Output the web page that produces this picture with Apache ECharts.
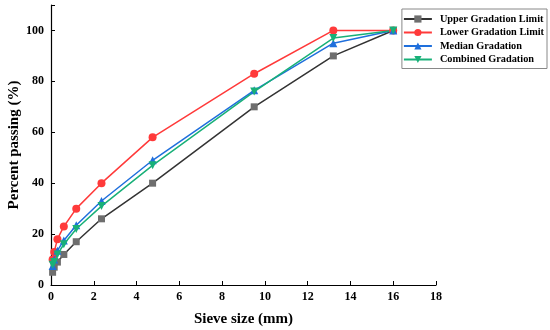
<!DOCTYPE html>
<html><head><meta charset="utf-8">
<script src="https://cdn.jsdelivr.net/npm/echarts@6/dist/echarts.min.js"></script>
<style>html,body{margin:0;padding:0;background:#fff}#c{width:550px;height:330px}</style>
</head><body><div id="c"></div>
<script>
const sieveSizes = [0.075, 0.15, 0.3, 0.6, 1.18, 2.36, 4.75, 9.5, 13.2, 16];
const upperLimit = [5, 7, 9, 12, 17, 26, 40, 70, 90, 100];
const lowerLimit = [10, 13, 18, 23, 30, 40, 58, 83, 100, 100];
const median = [7.5, 10, 13.5, 17.5, 23.5, 33, 49, 76.5, 95, 100];
const combined = [8, 9, 12, 16, 22, 31, 47, 76, 97, 100];
const seriesNames = ['Upper Gradation Limit', 'Lower Gradation Limit', 'Median Gradation', 'Combined Gradation'];

const font = '"Liberation Serif", "Times New Roman", serif';
function mk(name, vals, color, lineColor, symbol, size, rotate) {
  return {
    name, type: 'line', data: sieveSizes.map((x, i) => [x, vals[i]]),
    symbol, symbolSize: size, symbolRotate: rotate || 0,
    itemStyle: { color }, lineStyle: { color: lineColor, width: 1.5 }
  };
}
const chart = echarts.init(document.getElementById('c'));
chart.setOption({
  animation: false,
  grid: { left: 51, right: 114, top: 5, bottom: 45, outerBoundsMode: 'none', containLabel: false },
  legend: {
    right: 3, top: 9, orient: 'vertical', itemGap: 3.5, itemWidth: 28, itemHeight: 9,
    borderColor: '#888', borderWidth: 1, borderRadius: 0, padding: [5, 3, 4, 1],
    textStyle: { fontFamily: font, fontWeight: 'bold', fontSize: 10.3, color: '#000', padding: [0, 0, 0, 3] },
    data: seriesNames
  },
  xAxis: {
    type: 'value', min: 0, max: 18, interval: 2,
    name: 'Sieve size (mm)', nameLocation: 'middle', nameGap: 27, nameMoveOverlap: false,
    nameTextStyle: { fontFamily: font, fontWeight: 'bold', fontSize: 15, color: '#000' },
    axisLine: { lineStyle: { color: '#000', width: 1.2 } },
    axisTick: { inside: true, length: 4, lineStyle: { color: '#000' } },
    axisLabel: { fontFamily: font, fontWeight: 'bold', fontSize: 12, color: '#000', margin: 6 },
    splitLine: { show: false }
  },
  yAxis: {
    type: 'value', min: 0, max: 110, interval: 20,
    name: 'Percent passing (%)', nameLocation: 'middle', nameGap: 29, nameRotate: 90, nameMoveOverlap: false,
    nameTextStyle: { fontFamily: font, fontWeight: 'bold', fontSize: 15, color: '#000' },
    axisLine: { show: true, lineStyle: { color: '#000', width: 1.2 } },
    axisTick: { show: true, inside: true, length: 4, lineStyle: { color: '#000' } },
    axisLabel: { fontFamily: font, fontWeight: 'bold', fontSize: 12, color: '#000', margin: 7,
      formatter: v => v > 100 ? '' : v },
    splitLine: { show: false }
  },
  series: [
    mk(seriesNames[0], upperLimit, '#6e6e6e', '#333333', 'rect', 7),
    mk(seriesNames[1], lowerLimit, '#ff3a3a', '#ff3a3a', 'circle', 8),
    mk(seriesNames[2], median, '#1f6fdc', '#1f6fdc', 'triangle', 8),
    mk(seriesNames[3], combined, '#18b078', '#18b078', 'triangle', 8, 180)
  ]
});
</script></body></html>
